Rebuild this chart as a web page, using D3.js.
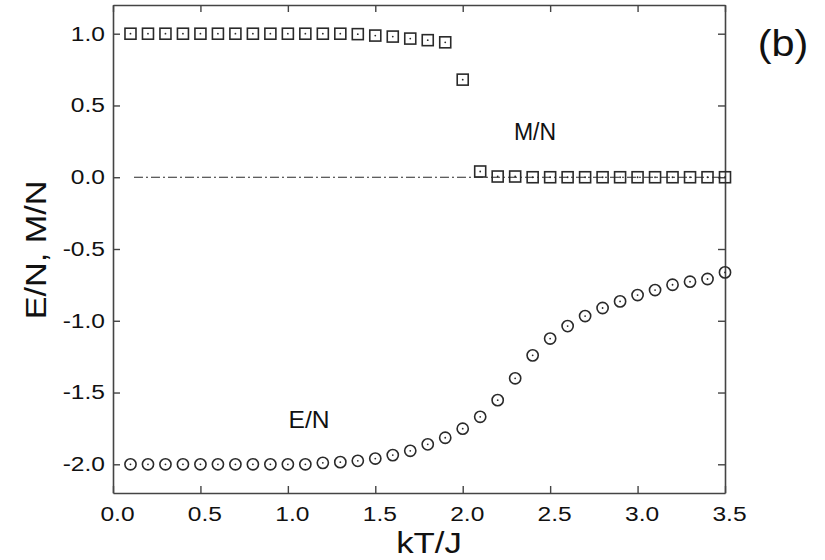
<!DOCTYPE html>
<html>
<head>
<meta charset="utf-8">
<script src="https://cdn.jsdelivr.net/npm/d3@7"></script>
<style>
  body { margin: 0; background: #fff; }
  svg text { font-family: "Liberation Sans", Arial, sans-serif; fill: #111; }
</style>
</head>
<body>
<div id="graph"></div>
<script>
// temperatures kT/J
var temps = [0.1, 0.2, 0.3, 0.4, 0.5, 0.6, 0.7, 0.8, 0.9, 1.0,
             1.1, 1.2, 1.3, 1.4, 1.5, 1.6, 1.7, 1.8, 1.9, 2.0,
             2.1, 2.2, 2.3, 2.4, 2.5, 2.6, 2.7, 2.8, 2.9, 3.0,
             3.1, 3.2, 3.3, 3.4, 3.5];
// magnetization per spin M/N
var magnet = [1.0, 1.0, 1.0, 1.0, 1.0, 1.0, 1.0, 1.0, 1.0, 1.0,
              1.0, 1.0, 1.0, 0.997, 0.987, 0.98, 0.966, 0.955, 0.94, 0.68,
              0.04, 0.005, 0.005, 0.0, 0.0, 0.0, 0.0, 0.0, 0.0, 0.0,
              0.0, 0.0, 0.0, 0.0, 0.0];
// energy per spin E/N
var energy = [-2.0, -2.0, -2.0, -2.0, -2.0, -2.0, -2.0, -2.0, -2.0, -2.0,
              -2.0, -1.99, -1.985, -1.976, -1.96, -1.936, -1.906, -1.861, -1.815, -1.752,
              -1.669, -1.553, -1.401, -1.241, -1.124, -1.037, -0.967, -0.911, -0.865, -0.821,
              -0.786, -0.749, -0.728, -0.709, -0.663];
var xTicks = [0.0, 0.5, 1.0, 1.5, 2.0, 2.5, 3.0, 3.5];
var yTicks = [-2.0, -1.5, -1.0, -0.5, 0.0, 0.5, 1.0];
var zeroLine = [0.12, 3.5];

const w = 825, h = 560;
const mLeft = 113, mRight = 725, mTop = 5, mBottom = 493;
const ink = "#2a2a2a";
const stretch = 1.17;   // the original lettering is a little wider than Arial

const x = d3.scaleLinear().domain([0, 3.5]).range([mLeft, mRight]);
const y = d3.scaleLinear().domain([-2.2, 1.2]).range([mBottom, mTop]);

const svg = d3.select("div#graph")
              .append("svg")
              .attr("width", w)
              .attr("height", h);

// dash-dot zero line
svg.append("line")
   .attr("x1", x(zeroLine[0])).attr("x2", x(zeroLine[1]))
   .attr("y1", y(0)).attr("y2", y(0))
   .attr("stroke", ink)
   .attr("stroke-width", 1.2)
   .attr("stroke-dasharray", "9,3,2,3");

// axes, ticks pointing inward on all four sides
const fmt = d => d.toFixed(1);
const axB = svg.append("g").attr("transform", "translate(0," + mBottom + ")")
   .call(d3.axisBottom(x).tickValues(xTicks).tickSizeInner(-7).tickSizeOuter(0).tickPadding(13).tickFormat(fmt));
const axT = svg.append("g").attr("transform", "translate(0," + mTop + ")")
   .call(d3.axisTop(x).tickValues(xTicks).tickSizeInner(-7).tickSizeOuter(0).tickFormat(""));
const axL = svg.append("g").attr("transform", "translate(" + mLeft + ",0)")
   .call(d3.axisLeft(y).tickValues(yTicks).tickSizeInner(-7).tickSizeOuter(0).tickFormat(fmt));
const axR = svg.append("g").attr("transform", "translate(" + mRight + ",0)")
   .call(d3.axisRight(y).tickValues(yTicks).tickSizeInner(-7).tickSizeOuter(0).tickFormat(""));

[axB, axT, axL, axR].forEach(function(a){
  a.select(".domain").attr("stroke", "#444").attr("stroke-width", 1.6);
  a.selectAll(".tick line").attr("stroke", "#444").attr("stroke-width", 1.4);
  a.selectAll("text").style("font-size", "21px").attr("fill", "#111");
});
axB.selectAll("text")
   .attr("dy", "0.71em")
   .attr("x", 4 / stretch)
   .attr("transform", "scale(" + stretch + ",1)");
axL.selectAll("text")
   .attr("x", -8 / stretch)
   .attr("dy", "0.3em")
   .attr("transform", "scale(" + stretch + ",1)");

// M/N squares
const sq = 11;
const mg = svg.append("g").selectAll("g")
  .data(temps.map((t, i) => ({t: t, v: magnet[i]})))
  .enter().append("g")
  .attr("transform", d => "translate(" + x(d.t) + "," + y(d.v) + ")");
mg.append("rect")
  .attr("x", -sq / 2).attr("y", -sq / 2)
  .attr("width", sq).attr("height", sq)
  .attr("fill", "none").attr("stroke", ink).attr("stroke-width", 1.6);
mg.append("circle").attr("r", 0.9).attr("fill", ink);

// E/N circles
const eg = svg.append("g").selectAll("g")
  .data(temps.map((t, i) => ({t: t, v: energy[i]})))
  .enter().append("g")
  .attr("transform", d => "translate(" + x(d.t) + "," + y(d.v) + ")");
eg.append("circle")
  .attr("r", 5.6)
  .attr("fill", "none").attr("stroke", ink).attr("stroke-width", 1.6);
eg.append("circle").attr("r", 0.9).attr("fill", ink);

// labels
function label(px, py, size, txt, rot, sx) {
  svg.append("g")
     .attr("transform", "translate(" + px + "," + py + ")" + (rot ? " rotate(" + rot + ")" : ""))
     .append("text")
     .attr("text-anchor", "middle")
     .attr("transform", "scale(" + sx + ",1)")
     .style("font-size", size + "px")
     .text(txt);
}
label(535, 140, 23, "M/N", 0, 1.0);
label(309, 428, 23, "E/N", 0, 1.07);
label(783, 56, 37, "(b)", 0, 1.12);
label(429, 553, 29, "kT/J", 0, 1.2);
label(46, 250, 29, "E/N, M/N", -90, 1.18);
</script>
</body>
</html>
